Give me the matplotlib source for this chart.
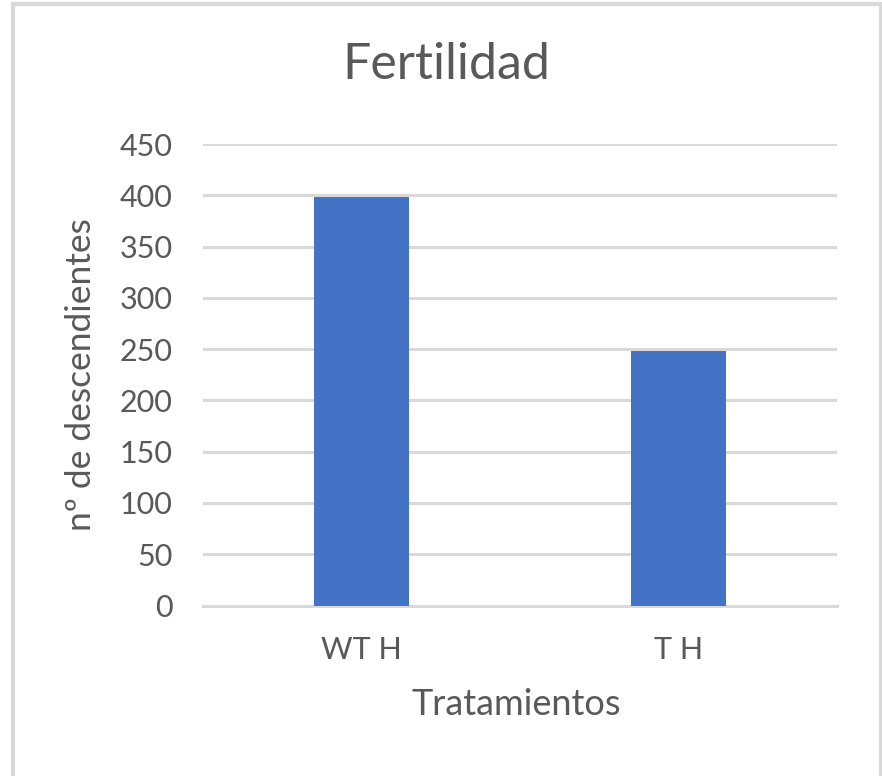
import matplotlib
matplotlib.use("Agg")
import matplotlib.pyplot as plt
from matplotlib.patches import Rectangle

# Data
categories = ["WT H", "T H"]
descendientes = [398, 248]
y_ticks = [0, 50, 100, 150, 200, 250, 300, 350, 400, 450]

text_color = "#595959"
grid_color = "#D9D9D9"
bar_color = "#4472C4"

plt.rcParams["font.family"] = ["Lato", "DejaVu Sans"]

fig = plt.figure(figsize=(8.82, 7.76), dpi=100)
ax = fig.add_axes([203 / 882, 1 - 605.5 / 776, 634 / 882, (605.5 - 144) / 776])

x = range(len(categories))
ax.bar(x, descendientes, width=0.30, color=bar_color, zorder=3)

ax.set_xlim(-0.5, len(categories) - 0.5)
ax.set_ylim(0, 450)
ax.set_yticks(y_ticks)
ax.set_xticks(list(x))
ax.set_xticklabels(categories)

# Gridlines like Excel
ax.grid(axis="y", color=grid_color, linewidth=2.2, zorder=0)
ax.set_axisbelow(True)
for side in ["top", "right", "left"]:
    ax.spines[side].set_visible(False)
ax.spines["bottom"].set_color(grid_color)
ax.spines["bottom"].set_linewidth(2.2)

ax.tick_params(axis="y", length=0, pad=22, labelsize=22, labelcolor=text_color)
ax.tick_params(axis="x", length=0, pad=22, labelsize=22, labelcolor=text_color)

ax.set_xlabel("Tratamientos", fontsize=26, color=text_color, va="center", ha="center")
ax.xaxis.set_label_coords(0.494, -0.2156)
ax.set_ylabel("nº de descendientes", fontsize=25.5, color=text_color, va="center", ha="center")
ax.yaxis.set_label_coords(-0.192, 0.5)

fig.text(446 / 882, 1 - 65 / 776, "Fertilidad", fontsize=36, color=text_color,
         ha="center", va="center")

# Chart area border
fig.patches.append(Rectangle((13 / 882, -0.02), (881 - 13) / 882, 0.9948 + 0.02,
                             transform=fig.transFigure, fill=False,
                             edgecolor=grid_color, linewidth=3, clip_on=False))

fig.savefig("out.png", dpi=100, facecolor="white")
